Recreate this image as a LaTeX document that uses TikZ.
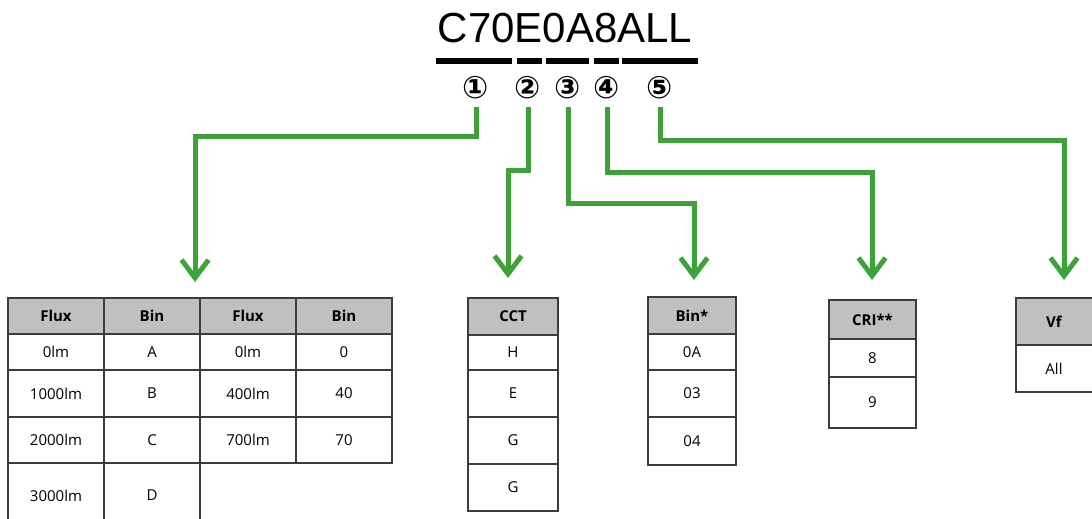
\documentclass[tikz,border=0pt]{standalone}
\usepackage{fontspec}
\usetikzlibrary{arrows.meta}
\newfontfamily\titlefont{Liberation Sans}
\newfontfamily\tabfont{Open Sans}
\newfontfamily\symfont{DejaVu Sans}
\definecolor{arrgreen}{RGB}{62,161,58}
\definecolor{hdrgray}{RGB}{192,192,192}
\definecolor{rulegray}{RGB}{60,60,60}
\newcommand\tcell[7]{\node[#1, minimum width={(#5-#3)*1pt}, minimum height={(#6-#4)*1pt}] (#2) at ({(#3+#5)/2},{(#4+#6)/2}) {#7};}
\begin{document}
\begin{tikzpicture}[x=1pt,y=-1pt,
  cellbase/.style={draw=rulegray, line width=1.4pt, inner sep=0pt, outer sep=0pt, font=\tabfont\fontsize{15}{17}\selectfont},
  hdr/.style={cellbase, fill=hdrgray, font=\tabfont\bfseries\fontsize{15}{17}\selectfont},
  cell/.style={cellbase, fill=white},
  arr/.style={draw=arrgreen, line width=5pt, line join=miter, -{Straight Barb[length=18pt,width=27pt]}},
  num/.style={font=\symfont\bfseries\fontsize{31}{33}\selectfont, inner sep=0pt},
  bar/.style={line width=6pt}
]
\useasboundingbox (0,0) rectangle (1092,519);
% title
\node[font=\titlefont\fontsize{42}{46}\selectfont, inner sep=0pt] (title) at (565,28) {C70E0A8ALL};
\draw[bar] (436,61) -- (512,61);
\draw[bar] (517,61) -- (542,61);
\draw[bar] (546,61) -- (589,61);
\draw[bar] (594,61) -- (619,61);
\draw[bar] (622,61) -- (698,61);
% circled numbers
\node[num] (c1) at (476,88) {①};
\node[num] (c2) at (528,88) {②};
\node[num] (c3) at (568,88) {③};
\node[num] (c4) at (607,88) {④};
\node[num] (c5) at (660,88) {⑤};
% arrow tips
\coordinate (t1) at (195,282);
\coordinate (t2) at (508,278);
\coordinate (t3) at (694,280);
\coordinate (t4) at (872,280);
\coordinate (t5) at (1064,280);
\draw[arr] (c1 |- 0,107) -- (c1 |- 0,136) -| (t1);
\draw[arr] (c2 |- 0,107) -- (c2 |- 0,170) -| (t2);
\draw[arr] (c3 |- 0,107) -- (c3 |- 0,203) -| (t3);
\draw[arr] (c4 |- 0,107) -- (c4 |- 0,172) -| (t4);
\draw[arr] (c5 |- 0,107) -- (c5 |- 0,140) -| (t5);
% table 1
\tcell{hdr}{fa0}{8}{298}{104}{334}{Flux}
\tcell{hdr}{fb0}{104}{298}{200}{334}{Bin}
\tcell{hdr}{fc0}{200}{298}{296}{334}{Flux}
\tcell{hdr}{fd0}{296}{298}{392}{334}{Bin}
\tcell{cell}{fa1}{8}{334}{104}{370}{0lm}
\tcell{cell}{fb1}{104}{334}{200}{370}{A}
\tcell{cell}{fc1}{200}{334}{296}{370}{0lm}
\tcell{cell}{fd1}{296}{334}{392}{370}{0}
\tcell{cell}{fa2}{8}{370}{104}{417}{1000lm}
\tcell{cell}{fb2}{104}{370}{200}{417}{B}
\tcell{cell}{fc2}{200}{370}{296}{417}{400lm}
\tcell{cell}{fd2}{296}{370}{392}{417}{40}
\tcell{cell}{fa3}{8}{417}{104}{463}{2000lm}
\tcell{cell}{fb3}{104}{417}{200}{463}{C}
\tcell{cell}{fc3}{200}{417}{296}{463}{700lm}
\tcell{cell}{fd3}{296}{417}{392}{463}{70}
\tcell{cell}{fa4}{8}{463}{104}{528}{3000lm}
\tcell{cell}{fb4}{104}{463}{200}{528}{D}
% CCT
\tcell{hdr}{cc0}{468}{298}{558}{335}{CCT}
\tcell{cell}{cc1}{468}{335}{558}{370}{H}
\tcell{cell}{cc2}{468}{370}{558}{417}{E}
\tcell{cell}{cc3}{468}{417}{558}{464}{G}
\tcell{cell}{cc4}{468}{464}{558}{511}{G}
% Bin*
\tcell{hdr}{bn0}{648}{297}{736}{334}{Bin*}
\tcell{cell}{bn1}{648}{334}{736}{370}{0A}
\tcell{cell}{bn2}{648}{370}{736}{417}{03}
\tcell{cell}{bn3}{648}{417}{736}{465}{04}
% CRI**
\tcell{hdr}{cr0}{829}{300}{916}{339}{CRI**}
\tcell{cell}{cr1}{829}{339}{916}{377}{8}
\tcell{cell}{cr2}{829}{377}{916}{428}{9}
% Vf
\tcell{hdr}{vf0}{1016}{298}{1100}{345}{\hspace*{-8pt}Vf}
\tcell{cell}{vf1}{1016}{345}{1100}{392}{\hspace*{-8pt}All}
\end{tikzpicture}
\end{document}
